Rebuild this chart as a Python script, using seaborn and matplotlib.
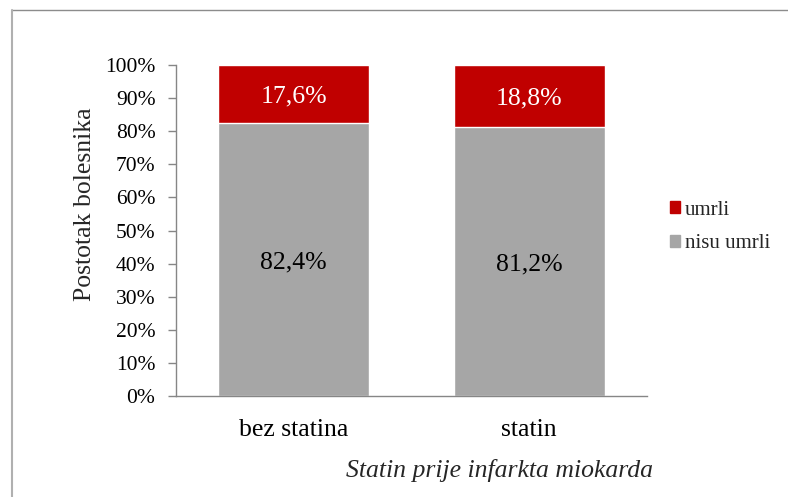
import matplotlib
matplotlib.use("Agg")
import matplotlib.pyplot as plt
import matplotlib.ticker as mticker
from matplotlib.lines import Line2D
import seaborn as sns
import pandas as pd

# Podaci
kategorije = ["bez statina", "statin"]
nisu_umrli = [82.4, 81.2]
umrli = [17.6, 18.8]

CRVENA = "#C00000"
SIVA = "#A6A6A6"
OS = "#868686"

sns.set_theme(style="white")
plt.rcParams["font.family"] = ["Liberation Serif", "DejaVu Serif"]

df = pd.DataFrame({"kategorija": kategorije, "nisu umrli": nisu_umrli, "umrli": umrli})
df["ukupno"] = df["nisu umrli"] + df["umrli"]

fig = plt.figure(figsize=(7.88, 4.97), dpi=100)
ax = fig.add_axes([176 / 788, 1 - 396 / 497, 471 / 788, 331 / 497])

# Naslagani stupci: prvo ukupno (crveno), pa donji dio (sivo)
sns.barplot(data=df, x="kategorija", y="ukupno", color=CRVENA, width=0.64,
            saturation=1, ax=ax)
sns.barplot(data=df, x="kategorija", y="nisu umrli", color=SIVA, width=0.64,
            saturation=1, ax=ax)

fmt = lambda v: f"{v:.1f}".replace(".", ",") + "%"
for i, (d, g) in enumerate(zip(nisu_umrli, umrli)):
    ax.text(i, d / 2, fmt(d), ha="center", va="center_baseline", fontsize=18.5, color="black")
    ax.text(i, d + g / 2, fmt(g), ha="center", va="center_baseline", fontsize=18.5, color="white")

ax.set_xlim(-0.5, 1.5)
ax.set_ylim(0, 100)
ax.yaxis.set_major_locator(mticker.MultipleLocator(10))
ax.yaxis.set_major_formatter(mticker.FuncFormatter(lambda v, p: f"{v:.0f}%"))
ax.set_xticks([0, 1])
ax.set_xticklabels(kategorije)
ax.set_xticks([-0.5, 0.5, 1.5], minor=True)
ax.tick_params(axis="x", which="major", length=0, labelsize=18.5, pad=16.5, colors="black")
ax.tick_params(axis="x", which="minor", length=5.8, width=1, color=OS, direction="out")
ax.tick_params(axis="y", length=5.8, width=1, color=OS, direction="out", labelsize=15.5,
               labelcolor="black", pad=9, left=True)

for s in ["top", "right"]:
    ax.spines[s].set_visible(False)
for s in ["left", "bottom"]:
    ax.spines[s].set_color(OS)
    ax.spines[s].set_linewidth(1)

ax.set_xlabel("")
ax.set_ylabel("")
fig.text(85 / 788, 1 - 204 / 497, "Postotak bolesnika", fontsize=18.5, rotation=90,
         ha="center", va="center")
fig.text(500 / 788, 1 - 471 / 497, "Statin prije infarkta miokarda", fontsize=18.5,
         style="italic", ha="center", va="center")

handles = [plt.Rectangle((0, 0), 1, 1, color=CRVENA), plt.Rectangle((0, 0), 1, 1, color=SIVA)]
fig.legend(handles, ["umrli", "nisu umrli"], loc="center left",
           bbox_to_anchor=(670 / 788, 1 - 227 / 497), frameon=False, fontsize=15,
           handlelength=0.5, handleheight=0.5, handletextpad=0.2, labelspacing=0.7,
           borderaxespad=0, borderpad=0)

# Okvir grafikona
fig.add_artist(Line2D([11.5 / 788, 1], [1 - 10 / 497, 1 - 10 / 497], color="#8c8c8c", lw=1))
fig.add_artist(Line2D([11.5 / 788, 11.5 / 788], [0, 1 - 10 / 497], color="#b0b0b0", lw=1.5))

fig.savefig("out.png", dpi=100)
